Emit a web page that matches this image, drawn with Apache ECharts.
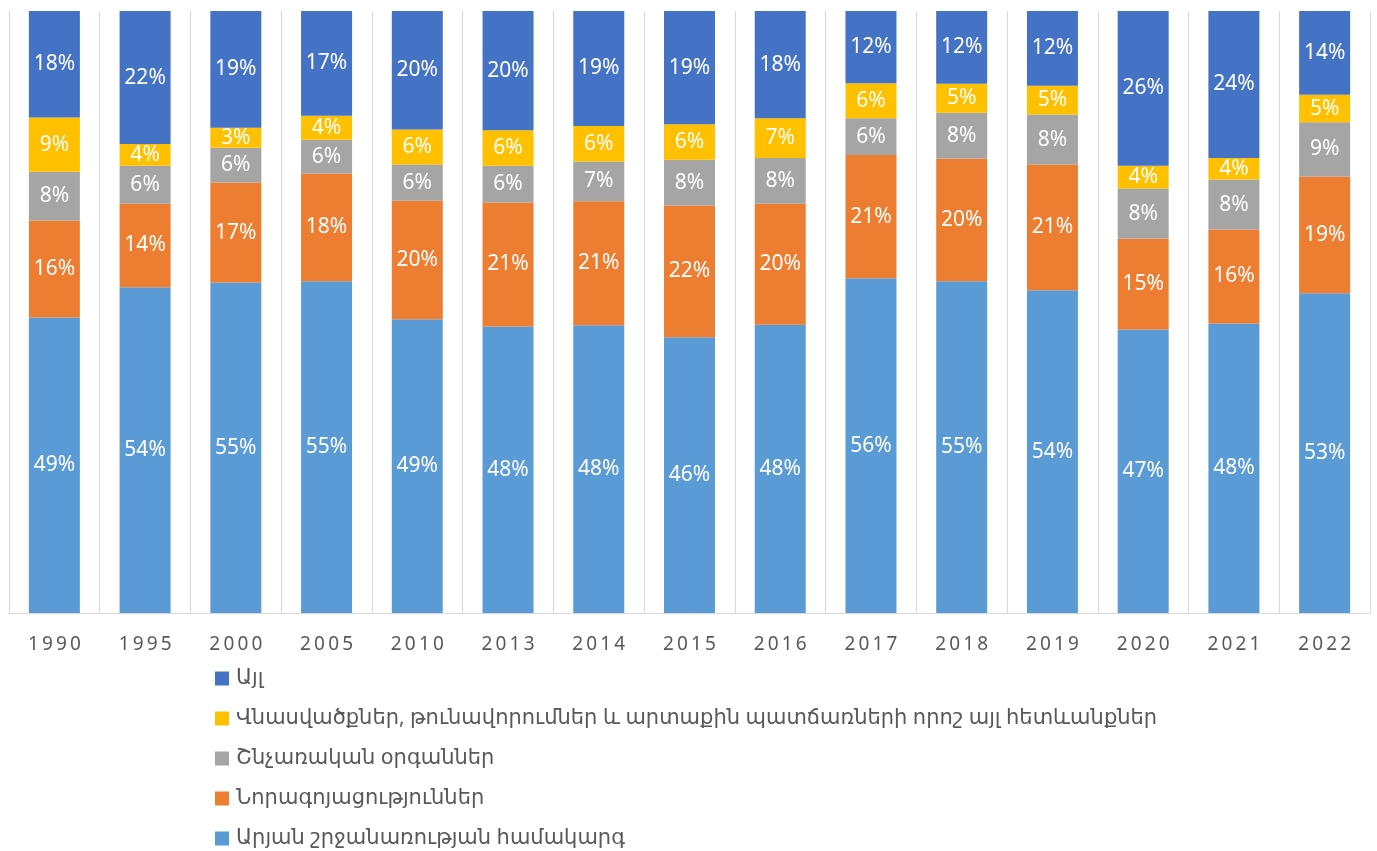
<!DOCTYPE html>
<html>
<head>
<meta charset="utf-8">
<script src="https://cdn.jsdelivr.net/npm/echarts@6/dist/echarts.min.js"></script>
<style>
  html, body { margin: 0; padding: 0; background: #fff; }
  #chart { width: 1377px; height: 851px; }
</style>
</head>
<body>
<div id="chart"></div>
<script>
// years
const years = ['1990', '1995', '2000', '2005', '2010', '2013', '2014', '2015', '2016', '2017', '2018', '2019', '2020', '2021', '2022'];

// shares, %
const blood = [49.1, 54.1, 54.9, 55.1, 48.8, 47.6, 47.8, 45.8, 47.9, 55.6, 55.1, 53.6, 47.1, 48.1, 53.1];
const tumors = [16.1, 13.9, 16.6, 17.9, 19.7, 20.6, 20.6, 21.9, 20.1, 20.5, 20.4, 20.9, 15.1, 15.6, 19.4];
const resp = [8.1, 6.3, 5.8, 5.6, 6.0, 6.1, 6.6, 7.6, 7.6, 6.1, 7.6, 8.3, 8.3, 8.3, 9.0];
const injuries = [9.0, 3.6, 3.3, 4.0, 5.8, 5.9, 5.9, 5.9, 6.6, 5.8, 4.8, 4.8, 3.8, 3.6, 4.6];
const other = [17.7, 22.1, 19.4, 17.4, 19.7, 19.8, 19.1, 18.8, 17.8, 12.0, 12.1, 12.4, 25.7, 24.4, 13.9];

const names = [
    'Արյան շրջանառության համակարգ',
    'Նորագոյացություններ',
    'Շնչառական օրգաններ',
    'Վնասվածքներ, թունավորումներ և արտաքին պատճառների որոշ այլ հետևանքներ',
    'Այլ'
];
const colors = ['#5B9BD5', '#ED7D31', '#A5A5A5', '#FFC000', '#4472C4'];
const seriesData = [blood, tumors, resp, injuries, other];

const font = '"Noto Sans", "DejaVu Sans", sans-serif';

const chart = echarts.init(document.getElementById('chart'));

const options = {
    animation: false,
    textStyle: { fontFamily: font },
    color: colors,
    grid: {
        left: 9,
        right: 7,
        top: 11,
        bottom: 238
    },
    legend: {
        orient: 'vertical',
        left: 215,
        top: 668,
        padding: 0,
        itemWidth: 14,
        itemHeight: 14,
        itemGap: 19,
        icon: 'rect',
        data: names.slice().reverse(),
        textStyle: {
            color: '#595959',
            fontSize: 21,
            padding: [0, 0, 0, 2],
            fontFamily: font
        }
    },
    xAxis: {
        type: 'category',
        data: years,
        axisLine: { lineStyle: { color: '#d9d9d9', width: 1 } },
        axisTick: { show: false },
        splitLine: { show: true, lineStyle: { color: '#d9d9d9', width: 1 } },
        axisLabel: {
            color: '#595959',
            fontSize: 19,
            margin: 22,
            formatter: v => v.split('').join('\u2009')
        }
    },
    yAxis: {
        type: 'value',
        min: 0,
        max: 100,
        show: false
    },
    series: seriesData.map((d, i) => ({
        name: names[i],
        type: 'bar',
        stack: 'total',
        barWidth: 51,
        data: d,
        itemStyle: { color: colors[i] },
        label: {
            show: true,
            position: 'inside',
            color: '#fff',
            fontSize: 21,
            fontFamily: font,
            formatter: p => Math.round(p.value) + '%'
        }
    }))
};

chart.setOption(options);
</script>
</body>
</html>
